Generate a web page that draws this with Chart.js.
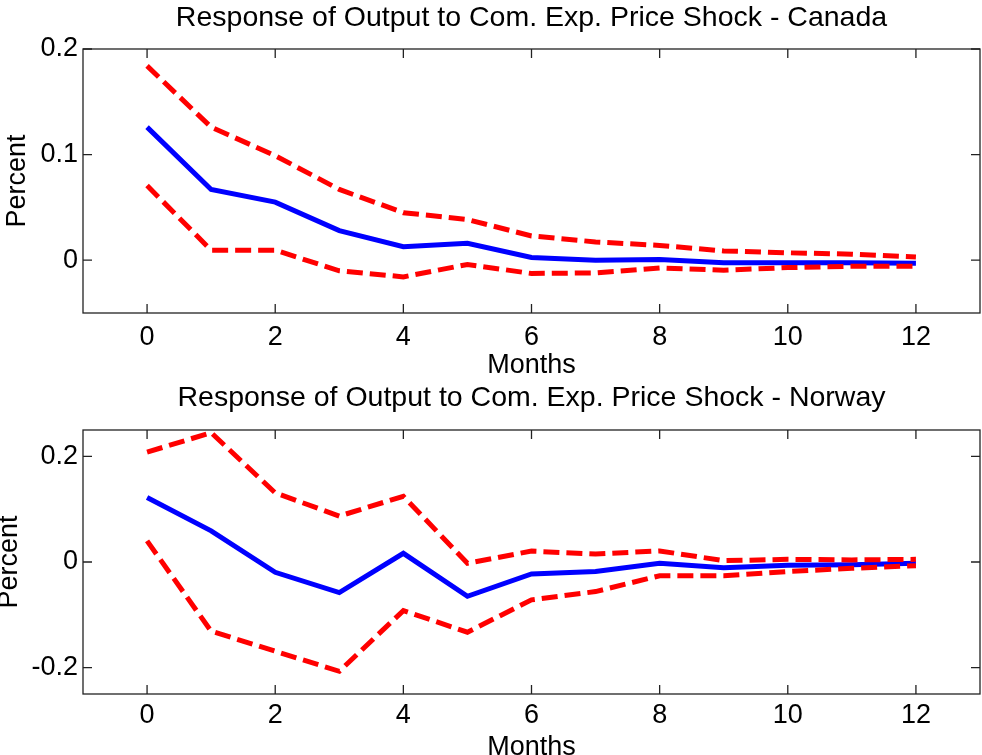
<!DOCTYPE html>
<html>
<head>
<meta charset="utf-8">
<script src="https://cdn.jsdelivr.net/npm/chart.js@4"></script>
<style>
    html, body { margin: 0; padding: 0; background: #fff; }
    body { width: 982px; height: 755px; position: relative; overflow: hidden; }
    .panel { position: absolute; left: 0; width: 982px; }
    #top-panel { top: 0; height: 376px; }
    #bottom-panel { top: 376px; height: 379px; }
</style>
</head>
<body>
<div class="panel" id="top-panel"><canvas id="canada-canvas"></canvas></div>
<div class="panel" id="bottom-panel"><canvas id="norway-canvas"></canvas></div>
<script>
const FONT = "'Liberation Sans', Arial, Helvetica, sans-serif";
const FONT_SIZE = 27;
const TITLE_SIZE = 28.5;

const months = [0, 1, 2, 3, 4, 5, 6, 7, 8, 9, 10, 11, 12];
const xTicks = [0, 2, 4, 6, 8, 10, 12];

// Canada
const canadaResponse = [0.126, 0.067, 0.055, 0.028, 0.0127, 0.016, 0.0025, 0.0, 0.0006, -0.0025, -0.0025, -0.0025, -0.003];
const canadaUpper = [0.184, 0.126, 0.099, 0.067, 0.045, 0.0385, 0.023, 0.0173, 0.014, 0.0088, 0.007, 0.0057, 0.003];
const canadaLower = [0.0707, 0.0095, 0.0095, -0.010, -0.0158, -0.004, -0.0126, -0.012, -0.0073, -0.0095, -0.007, -0.0057, -0.0057];
const canadaYTicks = [0, 0.1, 0.2];

// Norway
const norwayResponse = [0.122, 0.059, -0.0195, -0.058, 0.0164, -0.065, -0.0226, -0.018, -0.0025, -0.011, -0.006, -0.005, -0.0025];
const norwayUpper = [0.208, 0.245, 0.131, 0.087, 0.1245, -0.0025, 0.0207, 0.015, 0.021, 0.0025, 0.005, 0.004, 0.005];
const norwayLower = [0.040, -0.131, -0.169, -0.207, -0.092, -0.133, -0.0717, -0.056, -0.026, -0.026, -0.018, -0.012, -0.007];
const norwayYTicks = [-0.2, 0, 0.2];

function points(values) {
    return months.map((m, i) => ({x: m, y: values[i]}));
}

// matlab style box with ticks pointing inward on all four sides
const boxTicks = {
    id: "boxTicks",
    afterDraw(chart) {
        const {ctx, chartArea: a, scales} = chart;
        const len = 9;
        ctx.save();
        ctx.strokeStyle = "#222";
        ctx.lineWidth = 1.3;
        ctx.strokeRect(a.left, a.top, a.right - a.left, a.bottom - a.top);
        ctx.beginPath();
        scales.x.ticks.forEach((t) => {
            const px = scales.x.getPixelForValue(t.value);
            ctx.moveTo(px, a.bottom);
            ctx.lineTo(px, a.bottom - len);
            ctx.moveTo(px, a.top);
            ctx.lineTo(px, a.top + len);
        });
        scales.y.ticks.forEach((t) => {
            const py = scales.y.getPixelForValue(t.value);
            ctx.moveTo(a.left, py);
            ctx.lineTo(a.left + len, py);
            ctx.moveTo(a.right, py);
            ctx.lineTo(a.right - len, py);
        });
        ctx.stroke();
        ctx.restore();
    },
};

function setupChart(canvasId, cfg) {
    const ctx = document.getElementById(canvasId).getContext("2d");
    const font = {family: FONT, size: FONT_SIZE, weight: "normal", lineHeight: 1};
    return new Chart(ctx, {
        type: "line",
        data: {
            datasets: [
                {
                    data: points(cfg.upper),
                    borderColor: "#ff0000",
                    borderWidth: 5,
                    borderDash: [16, 7],
                },
                {
                    data: points(cfg.lower),
                    borderColor: "#ff0000",
                    borderWidth: 5,
                    borderDash: [16, 7],
                },
                {
                    data: points(cfg.response),
                    borderColor: "#0000ff",
                    borderWidth: 5,
                },
            ],
        },
        options: {
            responsive: true,
            maintainAspectRatio: false,
            animation: false,
            layout: {padding: {left: 0, right: 2, top: 0, bottom: 0}},
            elements: {
                point: {radius: 0},
                line: {tension: 0, backgroundColor: "transparent", fill: false, borderCapStyle: "butt"},
            },
            plugins: {
                legend: {display: false},
                tooltip: {enabled: false},
                title: {
                    display: true,
                    fullSize: false,
                    text: cfg.title,
                    color: "#000",
                    font: {family: FONT, size: TITLE_SIZE, weight: "normal", lineHeight: 1},
                    padding: {top: cfg.titleTop, bottom: cfg.areaTop - cfg.titleTop - TITLE_SIZE},
                },
            },
            scales: {
                x: {
                    type: "linear",
                    min: -1,
                    max: 13,
                    grid: {display: false, drawTicks: false},
                    border: {display: false},
                    afterBuildTicks: (scale) => {
                        scale.ticks = xTicks.map((v) => ({value: v}));
                    },
                    afterFit: (scale) => {
                        scale.height = cfg.xHeight;
                    },
                    ticks: {
                        color: "#000",
                        padding: cfg.xTickPad,
                        maxRotation: 0,
                        font: font,
                    },
                    title: {
                        display: true,
                        text: "Months",
                        color: "#000",
                        font: font,
                        padding: {top: 0, bottom: cfg.monthsPad},
                    },
                },
                y: {
                    min: cfg.yMin,
                    max: cfg.yMax,
                    grid: {display: false, drawTicks: false},
                    border: {display: false},
                    afterBuildTicks: (scale) => {
                        scale.ticks = cfg.yTicks.map((v) => ({value: v}));
                    },
                    afterFit: (scale) => {
                        scale.width = 83;
                    },
                    ticks: {
                        color: "#000",
                        padding: 5,
                        font: font,
                        callback: (v) => String(v),
                    },
                    title: {
                        display: true,
                        text: "Percent",
                        color: "#000",
                        font: font,
                        padding: {top: cfg.percentPad, bottom: 0},
                    },
                },
            },
        },
        plugins: [boxTicks],
    });
}

setupChart("canada-canvas", {
    title: "Response of Output to Com. Exp. Price Shock - Canada",
    response: canadaResponse,
    upper: canadaUpper,
    lower: canadaLower,
    yTicks: canadaYTicks,
    yMin: -0.05,
    yMax: 0.2,
    titleTop: 4,
    areaTop: 49,
    xHeight: 63,
    xTickPad: 11,
    monthsPad: -3,
    percentPad: 4,
});

setupChart("norway-canvas", {
    title: "Response of Output to Com. Exp. Price Shock - Norway",
    response: norwayResponse,
    upper: norwayUpper,
    lower: norwayLower,
    yTicks: norwayYTicks,
    yMin: -0.25,
    yMax: 0.25,
    titleTop: 8,
    areaTop: 54,
    xHeight: 61,
    xTickPad: 8,
    monthsPad: -6,
    percentPad: -4,
});
</script>
</body>
</html>
